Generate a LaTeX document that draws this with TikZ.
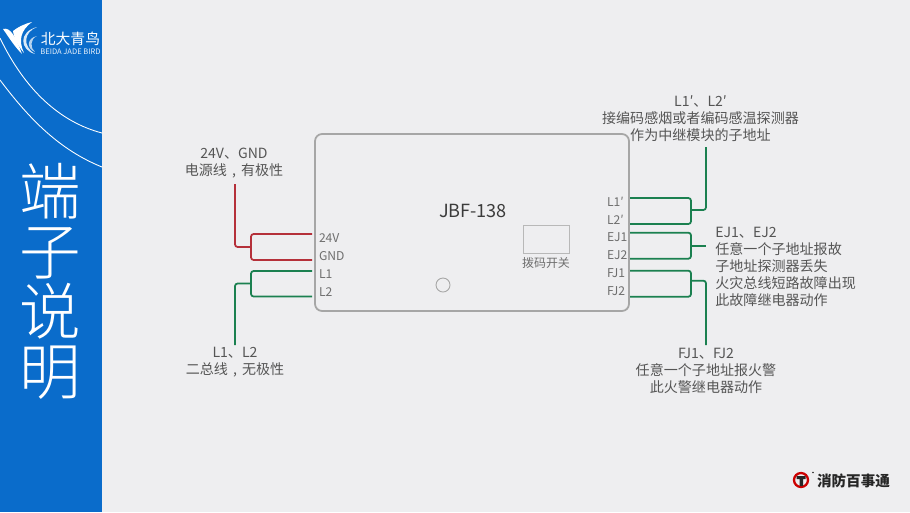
\documentclass[tikz,border=0pt]{standalone}
\usepackage{fontspec}
\setmainfont{Noto Sans CJK SC}
\newfontfamily\thinfont{Noto Sans CJK SC Light}
\newcommand{\midcomma}{\makebox[1em]{,}}
\definecolor{panelblue}{HTML}{0A6CCB}
\definecolor{pagegray}{HTML}{EEEEF0}
\definecolor{boxgray}{HTML}{A6A6A6}
\definecolor{textgray}{HTML}{555555}
\definecolor{wirered}{HTML}{B5303A}
\definecolor{wiregreen}{HTML}{1B8050}
\begin{document}
\begin{tikzpicture}[
  x=0.02cm, y=-0.02cm,
  note/.style={text=textgray, align=center, inner sep=0pt, font=\fontsize{8}{9.7}\selectfont},
  pinl/.style={text=textgray!85, text width=0.8cm, align=left, inner xsep=0.14cm, inner ysep=0pt, font=\fontsize{6.9}{8}\selectfont},
  pinr/.style={text=textgray!85, text width=0.5cm, align=left, inner sep=0pt, font=\fontsize{6.9}{8}\selectfont},
  redwire/.style={draw=wirered, line width=1pt, rounded corners=1.5pt},
  greenwire/.style={draw=wiregreen, line width=1pt, rounded corners=1.5pt},
  node distance=0.36cm
]
% Page and side panel
\fill[pagegray] (0,0) rectangle (910,512);
\useasboundingbox (0,0) rectangle (910,512);
\fill[panelblue] (0,0) rectangle (102,512);
\draw[white, line width=0.5pt] (0,38) .. controls (25,90) and (60,122) .. (102,133);
\draw[white, line width=0.5pt] (0,80) .. controls (30,120) and (60,150) .. (102,167);
\node[text=white, align=center, inner sep=0pt, font=\fontsize{35}{34.2}\thinfont] (title) at (50,281) {端\\子\\说\\明};

% Top logo
\fill[white] (3,29) .. controls (10,27) and (15,35) .. (22,54) .. controls (14,46) and (8,36) .. (3,29);
\fill[white] (13,31) .. controls (18,27) and (24,24) .. (32,22) .. controls (21,30) and (18,40) .. (24,53) .. controls (18,46) and (14,38) .. (13,31);
\fill[white!85!panelblue] (37,27) .. controls (24,32) and (22,46) .. (35,54) .. controls (20,50) and (18,32) .. (37,27);
\fill[white!70!panelblue] (37,36) .. controls (30,39) and (30,48) .. (35,52) .. controls (26,48) and (27,38) .. (37,36);
\node[text=white, inner sep=0pt, font=\fontsize{8.4}{9}\selectfont] (logocn) at (70.5,39) {北大青鸟};
\node[text=white!90!panelblue, inner sep=0pt, font=\fontsize{4.3}{5}\selectfont] (logoen) at (70.5,51.5) {BEIDA JADE BIRD};

% Module
\node[draw=boxgray, line width=1pt, rounded corners=4pt, minimum width=6.28cm, minimum height=3.54cm, inner sep=0pt] (module) at (472,222.5) {};
\node[text=textgray!70!black, inner sep=0pt, font=\fontsize{10.3}{12}\selectfont] (model) at (473,211) {JBF-138};
\node[draw=boxgray!80, line width=0.5pt, minimum width=0.92cm, minimum height=0.56cm, inner sep=0pt] (switch) at (546,239) {};
\node[below of=switch, node distance=0.47cm, text=textgray!85, inner sep=0pt, font=\fontsize{6.8}{8}\selectfont] (switchtext) {拨码开关};
\node[draw=boxgray, line width=0.5pt, circle, minimum size=0.28cm, inner sep=0pt] (hole) at (443,285) {};

% Left pins
\node[pinl] (p24v) at (339,238) {24V};
\node[pinl, below of=p24v] (pgnd) {GND};
\node[pinl, below of=pgnd] (pl1) {L1};
\node[pinl, below of=pl1] (pl2) {L2};

% Right pins
\node[pinr] (pl1p) at (619.5,201.5) {L1′};
\node[pinr, below of=pl1p] (pl2p) {L2′};
\node[pinr, below of=pl2p] (pej1) {EJ1};
\node[pinr, below of=pej1] (pej2) {EJ2};
\node[pinr, below of=pej2] (pfj1) {FJ1};
\node[pinr, below of=pfj1] (pfj2) {FJ2};

% Notes
\node[note] (powernote) at (234,163) {24V、GND\\电源线\midcomma 有极性};
\node[note] (busnote) at (235,362.5) {L1、L2\\二总线\midcomma 无极性};
\node[note] (subnote) at (700.5,118.5) {L1′、L2′\\接编码感烟或者编码感温探测器\\作为中继模块的子地址};
\node[note, align=left, anchor=west] (faultnote) at (715,267) {EJ1、EJ2\\任意一个子地址报故\\子地址探测器丢失\\火灾总线短路故障出现\\此故障继电器动作};
\node[note] (firenote) at (706,371) {FJ1、FJ2\\任意一个子地址报火警\\此火警继电器动作};

% Wire ends
\coordinate (w24v) at (312,234);
\coordinate (wgnd) at (312,260);
\coordinate (wl1) at (312,271);
\coordinate (wl2) at (312,296.5);
\coordinate (powerjoin) at (251,247);
\coordinate (busjoin) at (251,283.5);
\coordinate (powerend) at (235,184);
\coordinate (busend) at (235,345);
\coordinate (wl1p) at (630,198);
\coordinate (wl2p) at (630,224);
\coordinate (wej1) at (630,232.7);
\coordinate (wej2) at (630,258.7);
\coordinate (wfj1) at (630,270.7);
\coordinate (wfj2) at (630,296.7);
\coordinate (subjoin) at (691,210);
\coordinate (faultjoin) at (691,245.7);
\coordinate (firejoin) at (691,280.7);
\coordinate (subend) at (706,147);
\coordinate (faultend) at (706,245.7);
\coordinate (fireend) at (706,345);

% Connections
\draw[redwire] (w24v) -| (powerjoin) |- (wgnd);
\draw[redwire] (powerjoin) -| (powerend);
\draw[greenwire] (wl1) -| (busjoin) |- (wl2);
\draw[greenwire] (busjoin) -| (busend);
\draw[greenwire] (wl1p) -| (subjoin) |- (wl2p);
\draw[greenwire] (subjoin) -| (subend);
\draw[greenwire] (wej1) -| (faultjoin) |- (wej2);
\draw[greenwire] (faultjoin) -- (faultend);
\draw[greenwire] (wfj1) -| (firejoin) |- (wfj2);
\draw[greenwire] (firejoin) -| (fireend);

% Bottom logo
\node[draw=red!80!black, line width=1.3pt, circle, minimum size=0.28cm, inner sep=0pt] (badge) at (801,480) {};
\fill[black!85] (796.5,476) -- (805.5,476) -- (805.5,479) -- (803,479) -- (803,486) -- (799.5,486) -- (799.5,479) -- (796.5,479) -- cycle;
\node[fill=black!85, circle, minimum size=1pt, inner sep=0pt] (badgedot) at (813,472.5) {};
\node[text=black!85, inner sep=0pt, font=\fontsize{8.3}{9}\selectfont\bfseries] (brand) at (853.5,481) {消防百事通};
\end{tikzpicture}
\end{document}
